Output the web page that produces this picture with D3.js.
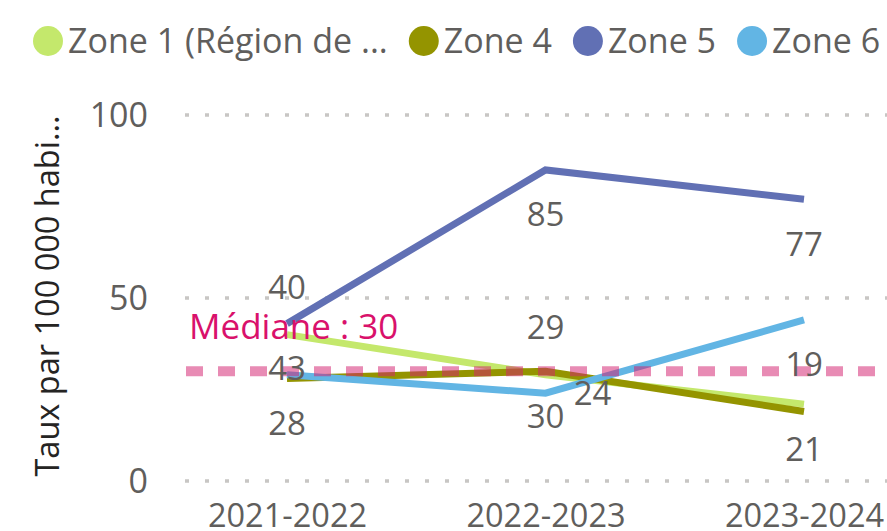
<!DOCTYPE html>
<html>
<head>
<meta charset="utf-8">
<script src="https://cdn.jsdelivr.net/npm/d3@7"></script>
<style>
  html, body { margin: 0; padding: 0; background: #fff; }
  svg { display: block; font-family: "Open Sans", sans-serif; }
</style>
</head>
<body>
<svg id="chart" width="887" height="531"></svg>
<script>
// ---- Data ----
const categories = ["2021-2022", "2022-2023", "2023-2024"];
const seriesNames = ["Zone 1 (Région de ...", "Zone 4", "Zone 5", "Zone 6"];
const zone1 = [40, 29, 21];
const zone4 = [28, 30, 19];
const zone5 = [43, 85, 77];
const zone6 = [29, 24, 44];
const medianValue = 30;
const medianLabel = "Médiane : 30";
const yTicks = [0, 50, 100];
const yTitle = "Taux par 100 000 habi...";

// label placement per series/point (style, not data)
const labelPlacement = [
  ["above", "above", "below"],
  ["below", "below", "above"],
  ["below", "below", "below"],
  [null, "right", null]
];
const colors = ["#C4E86C", "#949400", "#6170B4", "#62B5E4"];

const seriesValues = [zone1, zone4, zone5, zone6];
const series = seriesNames.map((name, i) => ({
  name, color: colors[i],
  values: seriesValues[i].map((v, j) => ({ cat: categories[j], v, place: labelPlacement[i][j] }))
}));

// ---- Layout ----
const svg = d3.select("#chart");
const x = d3.scalePoint().domain(categories).range([287, 804]);
const y = d3.scaleLinear().domain([0, 100]).range([481, 115]);
const gridLeft = 185, gridRight = 887;

// gridlines
svg.append("g").selectAll("line").data(yTicks).join("line")
  .attr("x1", gridLeft).attr("x2", gridRight)
  .attr("y1", d => y(d)).attr("y2", d => y(d))
  .attr("stroke", "#C8C6C4").attr("stroke-width", 3.5)
  .attr("stroke-dasharray", "4 16");

// y axis tick labels (via d3 axis)
const yAxis = d3.axisLeft(y).tickValues(yTicks).tickSize(0).tickPadding(0);
const yg = svg.append("g").attr("transform", "translate(148,0)").call(yAxis);
yg.select(".domain").remove();
yg.selectAll("text").attr("font-size", 34).attr("fill", "#605E5C")
  .attr("font-family", "'Open Sans', sans-serif").attr("dy", "0.35em");

// x axis tick labels
const xAxis = d3.axisBottom(x).tickSize(0).tickPadding(0);
const xg = svg.append("g").attr("transform", "translate(0,527)").call(xAxis);
xg.select(".domain").remove();
xg.selectAll("text").attr("font-size", 32.5).attr("fill", "#605E5C")
  .attr("font-family", "'Open Sans', sans-serif").attr("dy", 0).attr("y", 0);

// y title
svg.append("text")
  .attr("transform", "translate(59,296) rotate(-90)")
  .attr("text-anchor", "middle")
  .attr("font-size", 32.5).attr("fill", "#252423")
  .text(yTitle);

// lines
const line = d3.line().x(d => x(d.cat)).y(d => y(d.v));
svg.append("g").selectAll("path").data(series).join("path")
  .attr("d", d => line(d.values))
  .attr("fill", "none")
  .attr("stroke", d => d.color)
  .attr("stroke-width", 7)
  .attr("stroke-linejoin", "miter");

// median line
svg.append("line")
  .attr("x1", gridLeft + 1).attr("x2", gridRight)
  .attr("y1", y(medianValue)).attr("y2", y(medianValue))
  .attr("stroke", "#D3216F").attr("stroke-opacity", 0.52)
  .attr("stroke-width", 10).attr("stroke-dasharray", "17 15");
svg.append("text")
  .attr("x", 189).attr("y", y(medianValue) - 32)
  .attr("font-size", 35).attr("fill", "#D9116B")
  .text(medianLabel);

// data labels
const labels = [];
series.forEach(s => s.values.forEach(p => { if (p.place) labels.push(p); }));
svg.append("g").selectAll("text").data(labels).join("text")
  .attr("x", d => x(d.cat) + (d.place === "right" ? 47 : 0))
  .attr("y", d => y(d.v) + (d.place === "above" ? -47 : d.place === "below" ? 45 : 0))
  .attr("dy", "0.35em")
  .attr("text-anchor", "middle")
  .attr("font-size", 33).attr("fill", "#605E5C")
  .text(d => d.v);

// legend
const lg = svg.append("g");
let cx = 33;
const r = 15;
series.forEach((s, i) => {
  lg.append("circle").attr("cx", cx + r).attr("cy", 41).attr("r", r).attr("fill", s.color);
  const t = lg.append("text").attr("x", cx + 2 * r + 5).attr("y", 41).attr("dy", "0.35em")
    .attr("font-size", 34).attr("fill", "#605E5C").text(s.name);
  const w = t.node().getComputedTextLength();
  cx = cx + 2 * r + 5 + w + 21;
});
</script>
</body>
</html>
